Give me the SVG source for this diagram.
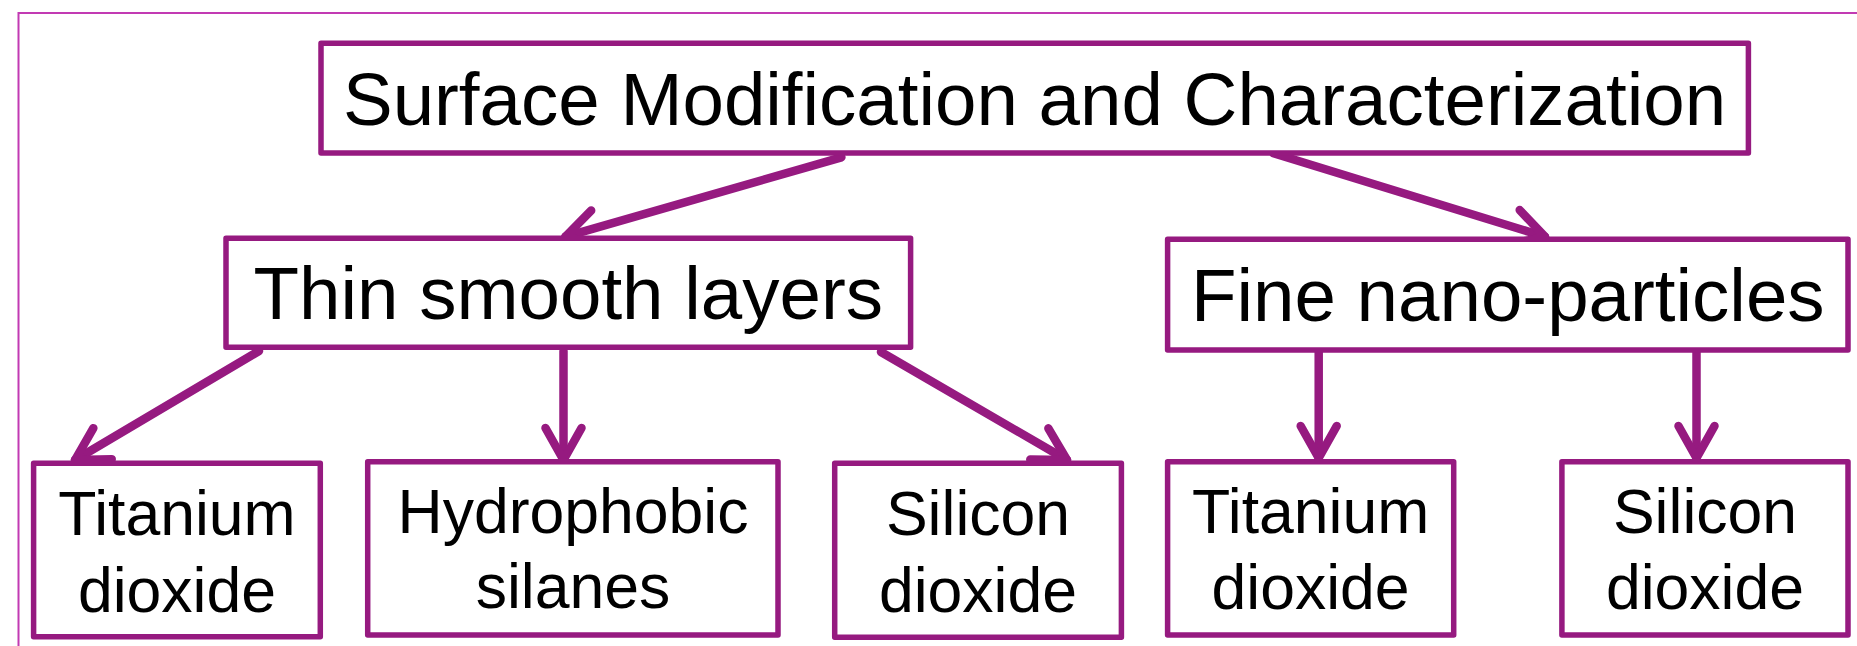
<svg xmlns="http://www.w3.org/2000/svg" width="1857" height="646" viewBox="0 0 1857 646">
<style>
.box{fill:#ffffff;stroke:#961a80;stroke-width:5.5;stroke-linejoin:round}
.t{font-family:"Liberation Sans",Arial,sans-serif;fill:#000000;text-anchor:middle}
.big{font-size:74.5px}
.sm{font-size:62.5px}
.con{stroke:#961a80;stroke-width:8.5;fill:none;stroke-linecap:round}
</style>
<defs>
<marker id="ah" markerUnits="userSpaceOnUse" orient="auto" markerWidth="60" markerHeight="60" refX="0" refY="0" viewBox="-40 -30 60 60" overflow="visible">
<path d="M -32,-18 L 0,0 L -32,18" fill="none" stroke="#961a80" stroke-width="8.5" stroke-linecap="round" stroke-linejoin="round"/>
</marker>
</defs>
<rect width="1857" height="646" fill="#ffffff"/>
<path d="M 18.5,660 L 18.5,13 L 1870,13" fill="none" stroke="#c23ab3" stroke-width="2"/>
<g id="connectors">
<path class="con" d="M 841.4,157.3 L 565.4,236.7" marker-end="url(#ah)"/>
<path class="con" d="M 1273.4,153.3 L 1545,236.7" marker-end="url(#ah)"/>
<path class="con" d="M 259,351 L 75,460" marker-end="url(#ah)"/>
<path class="con" d="M 563.5,351 L 563.5,460" marker-end="url(#ah)"/>
<path class="con" d="M 881,352 L 1067,460" marker-end="url(#ah)"/>
<path class="con" d="M 1318.7,351 L 1318.7,458" marker-end="url(#ah)"/>
<path class="con" d="M 1696.5,351 L 1696.5,458" marker-end="url(#ah)"/>
</g>
<g id="root">
<rect class="box" x="321" y="43.3" width="1427.4" height="109.7"/>
<text class="t big" x="1034.5" y="125">Surface Modification and Characterization</text>
</g>
<g id="thin">
<rect class="box" x="226" y="238.3" width="684.6" height="109"/>
<text class="t big" x="568.3" y="319">Thin smooth layers</text>
</g>
<g id="fine">
<rect class="box" x="1167.6" y="239.3" width="680.4" height="110.7"/>
<text class="t big" x="1507.8" y="321">Fine nano-particles</text>
</g>
<g id="thin-tio2">
<rect class="box" x="33.6" y="463.3" width="286.7" height="173.4"/>
<text class="t sm" x="177" y="535">Titanium</text>
<text class="t sm" x="177" y="612">dioxide</text>
</g>
<g id="silanes">
<rect class="box" x="367.7" y="461.7" width="410.3" height="173.3"/>
<text class="t sm" x="573" y="533">Hydrophobic</text>
<text class="t sm" x="573" y="608">silanes</text>
</g>
<g id="thin-sio2">
<rect class="box" x="834.7" y="463.3" width="286.7" height="174"/>
<text class="t sm" x="978" y="535">Silicon</text>
<text class="t sm" x="978" y="612">dioxide</text>
</g>
<g id="fine-tio2">
<rect class="box" x="1167.6" y="461.7" width="286.1" height="173.3"/>
<text class="t sm" x="1310.6" y="533">Titanium</text>
<text class="t sm" x="1310.6" y="609">dioxide</text>
</g>
<g id="fine-sio2">
<rect class="box" x="1561.9" y="461.7" width="286.1" height="173.3"/>
<text class="t sm" x="1705" y="533">Silicon</text>
<text class="t sm" x="1705" y="609">dioxide</text>
</g>
</svg>
